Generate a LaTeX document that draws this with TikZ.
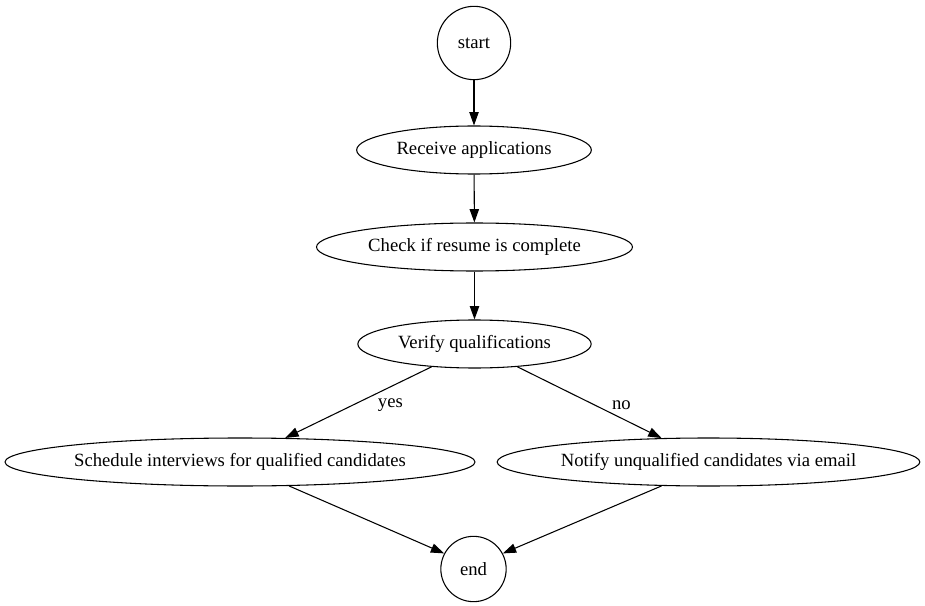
\documentclass[tikz,border=0pt]{standalone}
\usepackage{fontspec}
\setmainfont{Liberation Serif}
\usetikzlibrary{shapes.geometric,arrows.meta}

\begin{document}
\begin{tikzpicture}[
    x=0.75pt, y=-0.75pt,
    every node/.style={font=\fontsize{14}{16}\selectfont},
    terminal/.style={draw, circle, line width=0.8pt, inner sep=0pt},
    task/.style={draw, ellipse, line width=0.8pt, inner sep=0pt, minimum height=36pt},
    flow/.style={line width=0.8pt, -{Triangle[length=10pt, width=7pt]}},
    answer/.style={midway, xshift=24pt, yshift=-2pt}
  ]
    \useasboundingbox (0,0) rectangle (925,606);

    % Main chain
    \node[terminal, minimum size=55pt] (start) at (474,43) {start};
    \node[task, minimum width=176pt] (receive) at (474,150) {Receive applications};
    \node[task, minimum width=237pt] (check) at (474.5,247) {Check if resume is complete};
    \node[task, minimum width=175pt] (verify) at (474.5,344) {Verify qualifications};

    % Branches
    \node[task, minimum width=352.5pt] (schedule) at (240,462) {Schedule interviews for qualified candidates};
    \node[task, minimum width=317pt] (notify) at (708.5,462) {Notify unqualified candidates via email};
    \node[terminal, minimum size=49pt] (end) at (473.5,569) {end};

    \draw[flow] (start) -- (receive);
    \draw[flow] (receive) -- (check);
    \draw[flow] (check) -- (verify);
    \draw[flow] (verify.208) -- node[answer] {yes} (schedule.28);
    \draw[flow] (verify.-28) -- node[answer] {no} (notify.153);
    \draw[flow] (schedule.-26) -- (end.152);
    \draw[flow] (notify.207) -- (end.28);
\end{tikzpicture}
\end{document}
